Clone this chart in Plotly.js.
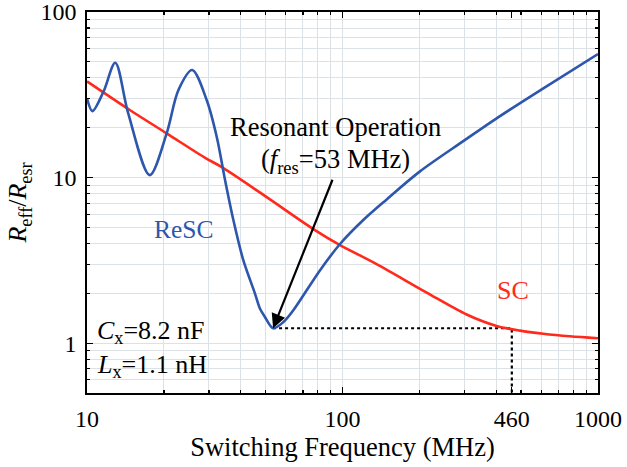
<!DOCTYPE html>
<html>
<head>
<meta charset="utf-8">
<script src="https://cdn.plot.ly/plotly-3.0.1.min.js"></script>
<style>html,body{margin:0;padding:0;background:#fff;}#chart{width:627px;height:467px;}</style>
</head>
<body>
<div id="chart"></div>
<script>
// ReSC curve
const rescFreq = [10, 10.5, 11.6, 12.9, 14.5, 17.6, 20.5, 22.8, 25.8, 29.4, 32.2, 34.7, 37.4, 40.9, 45.4, 47.5, 49.7, 53.5, 58.7, 64.2, 81.7, 97.8, 120.6, 148.9, 201, 297, 401, 611, 1000];
const rescVal  = [30.1, 25.2, 33.0, 49.4, 24.4, 10.35, 18.5, 33.8, 44.6, 29.4, 17.6, 9.66, 5.54, 3.17, 2.0, 1.62, 1.44, 1.23, 1.34, 1.58, 2.76, 3.97, 5.54, 7.38, 10.9, 16.6, 22.8, 34.6, 55.7];
// SC curve
const scFreq = [10, 14.7, 20.5, 28.9, 33.6, 50, 78, 97.8, 136, 213.5, 306, 401, 495, 611, 776, 1000];
const scVal  = [38.1, 25.6, 18.5, 13.2, 11.6, 7.7, 4.82, 3.91, 3.0, 2.02, 1.49, 1.27, 1.19, 1.14, 1.10, 1.07];
// Dotted guide: resonance point -> SC equivalent at 460 MHz
const guideFreq = [53.5, 460, 460];
const guideVal  = [1.23, 1.23, 0.5];
// Axis ticks
const xTickVals = [10, 100, 460, 1000];
const xTickText = ['10', '100', '460', '1000'];
const xMinorVals = [20,30,40,50,60,70,80,90,100,200,300,400,500,600,700,800,900];
const yTickVals = [1, 10, 100];
const yTickText = ['1', '10', '100'];
const yMinorVals = [0.5,0.6,0.7,0.8,0.9,2,3,4,5,6,7,8,9,20,30,40,50,60,70,80,90];
// Resonance annotation
const fRes = 53.5, rRes = 1.23;

const BLUE = '#2d56ad', RED = '#ff2a1c', GRID = '#dbe1e4';
const FONT = "'Liberation Serif', 'Times New Roman', Tinos, 'DejaVu Serif', 'Noto Serif', serif";
const L = Math.log10;

const traces = [
  {x: guideFreq, y: guideVal, mode: 'lines', line: {color: '#000', width: 2.2, dash: 'dot'}, hoverinfo: 'skip'},
  {x: scFreq, y: scVal, mode: 'lines', line: {color: RED, width: 2.6, shape: 'spline', smoothing: 0.9}},
  {x: rescFreq, y: rescVal, mode: 'lines', line: {color: BLUE, width: 2.6, shape: 'spline', smoothing: 0.9}}
];

const layout = {
  width: 627, height: 467,
  margin: {l: 87, r: 29, t: 12, b: 74},
  paper_bgcolor: '#fff', plot_bgcolor: '#fff',
  showlegend: false,
  font: {family: FONT, color: '#000', size: 24},
  xaxis: {
    type: 'log', range: [1, 3], autorange: false,
    tickmode: 'array', tickvals: xTickVals, ticktext: xTickText,
    ticks: 'inside', ticklen: 6, tickwidth: 1.2, tickcolor: '#000',
    showline: true, linecolor: '#000', linewidth: 1.6, mirror: 'ticks',
    showgrid: false, zeroline: false,
    ticklabelstandoff: 4, ticklabeloverflow: 'allow',
    tickfont: {family: FONT, size: 24},
    minor: {tickmode: 'array', tickvals: xMinorVals, ticks: 'inside', ticklen: 3, tickcolor: '#000', showgrid: true, gridcolor: GRID, gridwidth: 1},
    title: {text: 'Switching Frequency (MHz)', font: {family: FONT, size: 26.5}, standoff: 3}
  },
  yaxis: {
    type: 'log', range: [L(0.5), 2], autorange: false,
    tickmode: 'array', tickvals: yTickVals, ticktext: yTickText,
    ticks: 'inside', ticklen: 6, tickwidth: 1.2, tickcolor: '#000',
    showline: true, linecolor: '#000', linewidth: 1.6, mirror: 'ticks',
    showgrid: true, gridcolor: GRID, gridwidth: 1, zeroline: false,
    ticklabelstandoff: 4, ticklabeloverflow: 'allow',
    tickfont: {family: FONT, size: 24},
    minor: {tickmode: 'array', tickvals: yMinorVals, ticks: 'inside', ticklen: 3, tickcolor: '#000', showgrid: true, gridcolor: GRID, gridwidth: 1},
    title: {text: '<i>R</i><sub>eff</sub>/<i>R</i><sub>esr</sub>', font: {family: FONT, size: 26}, standoff: 6}
  },
  annotations: [
    {x: L(fRes), y: L(rRes), xref: 'x', yref: 'y', ax: 60, ay: -150, axref: 'pixel', ayref: 'pixel',
     text: '', showarrow: true, arrowhead: 2, arrowsize: 1.3, arrowwidth: 2.2, arrowcolor: '#000', standoff: 0},
    {x: L(93.5), y: L(20.2), xref: 'x', yref: 'y', text: 'Resonant Operation', showarrow: false, font: {family: FONT, size: 26.5}},
    {x: L(93.5), y: L(12.6), xref: 'x', yref: 'y', text: '(<i>f</i><sub>res</sub>=53 MHz)', showarrow: false, font: {family: FONT, size: 26.5}},
    {x: L(24.0), y: L(4.89), xref: 'x', yref: 'y', text: 'ReSC', showarrow: false, font: {family: FONT, size: 25.5, color: BLUE}},
    {x: L(464), y: L(2.09), xref: 'x', yref: 'y', text: 'SC', showarrow: false, font: {family: FONT, size: 26, color: RED}},
    {x: L(10.7), y: L(1.165), xref: 'x', yref: 'y', xanchor: 'left', text: '<i>C</i><sub>x</sub>=8.2 nF', showarrow: false, font: {family: FONT, size: 26}},
    {x: L(10.7), y: L(0.726), xref: 'x', yref: 'y', xanchor: 'left', text: '<i>L</i><sub>x</sub>=1.1 nH', showarrow: false, font: {family: FONT, size: 26}}
  ]
};

Plotly.newPlot('chart', traces, layout, {staticPlot: true, displayModeBar: false});
</script>
</body>
</html>
